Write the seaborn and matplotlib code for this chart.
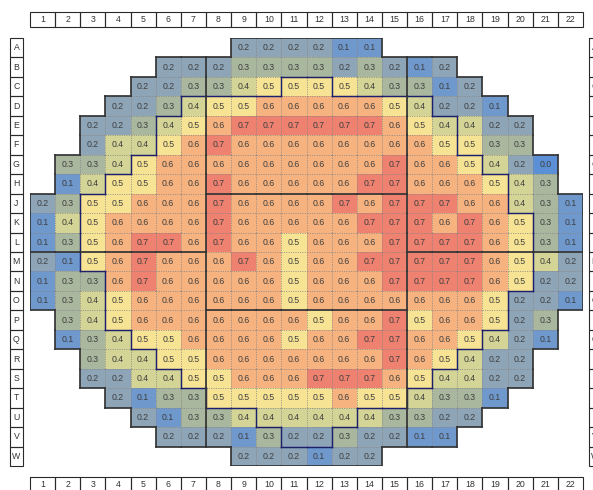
import numpy as np
import pandas as pd
import matplotlib
matplotlib.use("Agg")
import matplotlib.pyplot as plt
from matplotlib.colors import LinearSegmentedColormap
from matplotlib.collections import LineCollection
from matplotlib.patches import Rectangle
import seaborn as sns

sns.set_style("white")
plt.rcParams["font.family"] = ["Liberation Sans", "DejaVu Sans"]

# ---- wafer map readings -------------------------------------------------
row_labels = ["A", "B", "C", "D", "E", "F", "G", "H", "J", "K", "L",
              "M", "N", "O", "P", "Q", "R", "S", "T", "U", "V", "W"]
col_labels = list(range(1, 23))

# first populated column (1-based) of every row
first_col = [9, 6, 5, 4, 3, 3, 2, 2, 1, 1, 1, 1, 1, 1, 2, 2, 3, 3, 4, 5, 6, 9]

row_A = [0.2, 0.2, 0.2, 0.2, 0.1, 0.1]
row_B = [0.2, 0.2, 0.2, 0.3, 0.3, 0.3, 0.3, 0.2, 0.3, 0.2, 0.1, 0.2]
row_C = [0.2, 0.2, 0.3, 0.3, 0.4, 0.5, 0.5, 0.5, 0.5, 0.4, 0.3, 0.3, 0.1, 0.2]
row_D = [0.2, 0.2, 0.3, 0.4, 0.5, 0.5, 0.6, 0.6, 0.6, 0.6, 0.6, 0.5, 0.4, 0.2, 0.2, 0.1]
row_E = [0.2, 0.2, 0.3, 0.4, 0.5, 0.6, 0.7, 0.7, 0.7, 0.7, 0.7, 0.7, 0.6, 0.5, 0.4, 0.4, 0.2, 0.2]
row_F = [0.2, 0.4, 0.4, 0.5, 0.6, 0.7, 0.6, 0.6, 0.6, 0.6, 0.6, 0.6, 0.6, 0.6, 0.5, 0.5, 0.3, 0.3]
row_G = [0.3, 0.3, 0.4, 0.5, 0.6, 0.6, 0.6, 0.6, 0.6, 0.6, 0.6, 0.6, 0.6, 0.7, 0.6, 0.6, 0.5, 0.4, 0.2, 0.0]
row_H = [0.1, 0.4, 0.5, 0.5, 0.6, 0.6, 0.7, 0.6, 0.6, 0.6, 0.6, 0.6, 0.7, 0.7, 0.6, 0.6, 0.6, 0.5, 0.4, 0.3]
row_J = [0.2, 0.3, 0.5, 0.5, 0.6, 0.6, 0.6, 0.7, 0.6, 0.6, 0.6, 0.6, 0.7, 0.6, 0.7, 0.7, 0.7, 0.6, 0.6, 0.4, 0.3, 0.1]
row_K = [0.1, 0.4, 0.5, 0.6, 0.6, 0.6, 0.6, 0.7, 0.6, 0.6, 0.6, 0.6, 0.6, 0.7, 0.7, 0.7, 0.6, 0.7, 0.6, 0.5, 0.3, 0.1]
row_L = [0.1, 0.3, 0.5, 0.6, 0.7, 0.7, 0.6, 0.7, 0.6, 0.6, 0.5, 0.6, 0.6, 0.6, 0.7, 0.7, 0.7, 0.7, 0.6, 0.5, 0.3, 0.1]
row_M = [0.2, 0.1, 0.5, 0.6, 0.7, 0.6, 0.6, 0.6, 0.7, 0.6, 0.5, 0.6, 0.6, 0.7, 0.7, 0.7, 0.7, 0.7, 0.6, 0.5, 0.4, 0.2]
row_N = [0.1, 0.3, 0.3, 0.6, 0.7, 0.6, 0.6, 0.6, 0.6, 0.6, 0.5, 0.6, 0.6, 0.6, 0.7, 0.7, 0.7, 0.7, 0.6, 0.5, 0.2, 0.2]
row_O = [0.1, 0.3, 0.4, 0.5, 0.6, 0.6, 0.6, 0.6, 0.6, 0.6, 0.5, 0.6, 0.6, 0.6, 0.6, 0.6, 0.6, 0.6, 0.5, 0.2, 0.2, 0.1]
row_P = [0.3, 0.4, 0.5, 0.6, 0.6, 0.6, 0.6, 0.6, 0.6, 0.6, 0.5, 0.6, 0.6, 0.7, 0.5, 0.6, 0.6, 0.5, 0.2, 0.3]
row_Q = [0.1, 0.3, 0.4, 0.5, 0.5, 0.6, 0.6, 0.6, 0.6, 0.5, 0.6, 0.6, 0.7, 0.7, 0.6, 0.6, 0.5, 0.4, 0.2, 0.1]
row_R = [0.3, 0.4, 0.4, 0.5, 0.5, 0.6, 0.6, 0.6, 0.6, 0.6, 0.6, 0.6, 0.7, 0.6, 0.5, 0.4, 0.2, 0.2]
row_S = [0.2, 0.2, 0.4, 0.4, 0.5, 0.5, 0.6, 0.6, 0.6, 0.7, 0.7, 0.7, 0.6, 0.5, 0.4, 0.4, 0.2, 0.2]
row_T = [0.2, 0.1, 0.3, 0.3, 0.5, 0.5, 0.5, 0.5, 0.5, 0.6, 0.5, 0.5, 0.4, 0.3, 0.3, 0.1]
row_U = [0.2, 0.1, 0.3, 0.3, 0.4, 0.4, 0.4, 0.4, 0.4, 0.4, 0.3, 0.3, 0.2, 0.2]
row_V = [0.2, 0.2, 0.2, 0.1, 0.3, 0.2, 0.2, 0.3, 0.2, 0.2, 0.1, 0.1]
row_W = [0.2, 0.2, 0.2, 0.1, 0.2, 0.2]

readings = [row_A, row_B, row_C, row_D, row_E, row_F, row_G, row_H, row_J, row_K, row_L,
            row_M, row_N, row_O, row_P, row_Q, row_R, row_S, row_T, row_U, row_V, row_W]

# inner zone outlined in navy: (first, last) column per row, None when empty
inner_zone = [None, None, (11, 12), (7, 16), (6, 17), (6, 17), (5, 18), (4, 19), (3, 19),
              (3, 20), (3, 20), (3, 20), (4, 20), (4, 19), (4, 19), (5, 18), (6, 17),
              (7, 16), (8, 15), (10, 13), (11, 12), None]

# exposure field borders
field_split_cols = [7, 15]            # vertical border right of these columns
center_split_rows = ["J", "P"]        # border above these rows, columns 8-15
side_split_rows = ["M"]               # border above these rows, outer columns

# ---- grid ----------------------------------------------------------------
n_rows, n_cols = len(row_labels), len(col_labels)
grid = np.full((n_rows, n_cols), np.nan)
for r, (c0, vals) in enumerate(zip(first_col, readings)):
    grid[r, c0 - 1:c0 - 1 + len(vals)] = vals
df = pd.DataFrame(grid, index=row_labels, columns=col_labels)
present = ~np.isnan(grid)

zone = np.zeros_like(present)
for r, span in enumerate(inner_zone):
    if span is not None:
        zone[r, span[0] - 1:span[1]] = True

cmap = LinearSegmentedColormap.from_list(
    "wafer",
    [(0.0 / 0.7, "#5b8fd6"), (0.1 / 0.7, "#6f98cd"), (0.2 / 0.7, "#8ea5b8"),
     (0.3 / 0.7, "#a9b79f"), (0.4 / 0.7, "#d4d496"), (0.5 / 0.7, "#f7e394"),
     (0.6 / 0.7, "#f7b47f"), (0.7 / 0.7, "#ee8170")])

W, H = 593, 490
fig = plt.figure(figsize=(W / 100, H / 100), dpi=100)
ax = fig.add_axes([30 / W, 24 / H, 553 / W, 428 / H])
sns.heatmap(df, mask=~present, cmap=cmap, vmin=0, vmax=0.7, annot=True, fmt=".1f",
            annot_kws={"size": 6.3, "color": "#3f3f3f"}, cbar=False,
            xticklabels=False, yticklabels=False, ax=ax)
ax.set_axis_off()


def has(mask, r, c):
    return 0 <= r < mask.shape[0] and 0 <= c < mask.shape[1] and bool(mask[r, c])


def outline(mask):
    segs = []
    for r in range(mask.shape[0]):
        for c in range(mask.shape[1]):
            if not mask[r, c]:
                continue
            if not has(mask, r - 1, c):
                segs.append([(c, r), (c + 1, r)])
            if not has(mask, r + 1, c):
                segs.append([(c, r + 1), (c + 1, r + 1)])
            if not has(mask, r, c - 1):
                segs.append([(c, r), (c, r + 1)])
            if not has(mask, r, c + 1):
                segs.append([(c + 1, r), (c + 1, r + 1)])
    return segs


# dotted cell separators
dots = []
for r in range(n_rows):
    for c in range(n_cols):
        if present[r, c] and has(present, r, c + 1):
            dots.append([(c + 1, r), (c + 1, r + 1)])
        if present[r, c] and has(present, r + 1, c):
            dots.append([(c, r + 1), (c + 1, r + 1)])
ax.add_collection(LineCollection(dots, colors="#858585", linewidths=0.6,
                                 linestyles=[(0, (1.2, 1.6))], zorder=3))

# navy zone outline
ax.add_collection(LineCollection(outline(zone), colors="#1c1f6b", linewidths=1.05,
                                 capstyle="projecting", zorder=4))

# field borders and wafer edge
fields = []
for x in field_split_cols:
    for r in range(n_rows):
        if present[r, x - 1] and has(present, r, x):
            fields.append([(x, r), (x, r + 1)])
for lab in center_split_rows:
    y = row_labels.index(lab)
    for c in range(field_split_cols[0], field_split_cols[1]):
        if present[y, c] and present[y - 1, c]:
            fields.append([(c, y), (c + 1, y)])
for lab in side_split_rows:
    y = row_labels.index(lab)
    for c in list(range(0, field_split_cols[0])) + list(range(field_split_cols[1], n_cols)):
        if present[y, c] and present[y - 1, c]:
            fields.append([(c, y), (c + 1, y)])
ax.add_collection(LineCollection(fields + outline(present), colors="#353535",
                                 linewidths=1.25, capstyle="projecting", zorder=5))

# numbered column strips (top and bottom) and lettered row strips (left and right)
box = dict(fill=False, ec="#2a2a2a", lw=0.8, clip_on=False)
for i, lab in enumerate(col_labels):
    for y0, h in [(-1.34, 0.78), (22.55, 0.8)]:
        ax.add_patch(Rectangle((i, y0), 1, h, **box))
        ax.text(i + 0.5, y0 + h / 2, str(lab), ha="center", va="center",
                fontsize=6.3, color="#333333")
for r, lab in enumerate(row_labels):
    for x0 in (-0.8, 22.22):
        ax.add_patch(Rectangle((x0, r), 0.52, 1, **box))
        ax.text(x0 + 0.26, r + 0.5, lab, ha="center", va="center",
                fontsize=6.3, color="#333333")

fig.savefig("out.png", dpi=100, facecolor="white")
